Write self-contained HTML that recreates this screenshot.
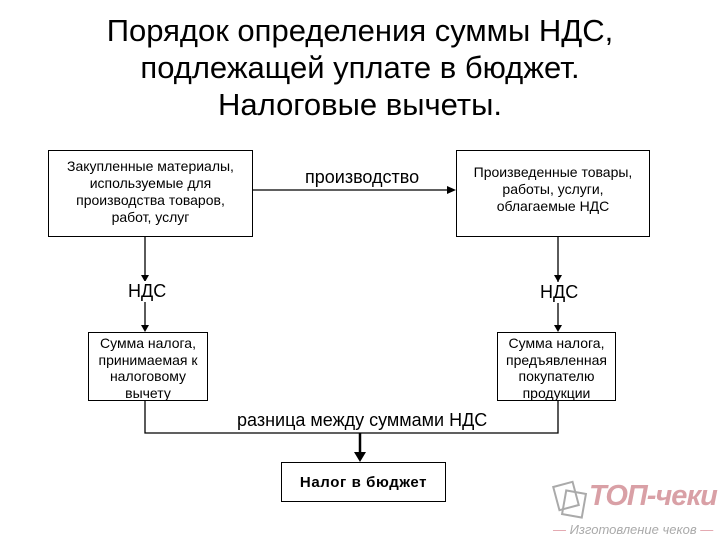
<!DOCTYPE html>
<html><head><meta charset="utf-8"><style>
body{margin:0;width:720px;height:540px;background:#fff;position:relative;overflow:hidden;font-family:"Liberation Sans",sans-serif;color:#000}
.t{position:absolute;left:0;width:720px;text-align:center;font-size:31px;line-height:37px;top:12px}
.b{position:absolute;border:1.5px solid #000;box-sizing:border-box;display:flex;align-items:center;justify-content:center;text-align:center;font-size:14px;line-height:17px;background:#fff}
.l{position:absolute;font-size:18px;background:#fff;white-space:nowrap}
</style></head><body>
<div class="t">Порядок определения суммы НДС,<br>подлежащей уплате в бюджет.<br>Налоговые вычеты.</div>
<svg width="720" height="540" style="position:absolute;left:0;top:0">
<g stroke="#000" stroke-width="1.3" fill="none">
<line x1="252" y1="190" x2="452" y2="190"/>
<line x1="145" y1="236" x2="145" y2="328"/>
<line x1="558" y1="236" x2="558" y2="328"/>
<polyline points="145,400 145,433 558,433 558,400"/>
<line x1="360" y1="433" x2="360" y2="456" stroke-width="2.5"/>
</g>
<g fill="#000">
<polygon points="456,190 447,186 447,194"/>
<polygon points="145,282 141,275 149,275"/>
<polygon points="145,332 141,325 149,325"/>
<polygon points="558,282 554,275 562,275"/>
<polygon points="558,332 554,325 562,325"/>
<polygon points="360,462 354,452 366,452"/>
</g>
</svg>
<div class="b" style="left:48px;top:150px;width:205px;height:87px;padding-bottom:4px">Закупленные материалы,<br>используемые для<br>производства товаров,<br>работ, услуг</div>
<div class="b" style="left:456px;top:150px;width:194px;height:87px;padding-bottom:8px">Произведенные товары,<br>работы, услуги,<br>облагаемые НДС</div>
<div class="b" style="left:88px;top:332px;width:120px;height:69px;line-height:16.5px;padding-top:3px">Сумма налога,<br>принимаемая к<br>налоговому<br>вычету</div>
<div class="b" style="left:497px;top:332px;width:119px;height:69px;line-height:16.5px;padding-top:3px">Сумма налога,<br>предъявленная<br>покупателю<br>продукции</div>
<div class="b" style="left:281px;top:462px;width:165px;height:40px;font-weight:bold;font-size:15px;letter-spacing:0.6px">Налог в бюджет</div>
<div class="l" style="left:305px;top:167px">производство</div>
<div class="l" style="left:126px;top:281px;padding:0 2px">НДС</div>
<div class="l" style="left:538px;top:282px;padding:0 2px">НДС</div>
<div class="l" style="left:235px;top:410px;padding:0 2px">разница между суммами НДС</div>
<svg width="50" height="50" style="position:absolute;left:548px;top:478px">
<g fill="none" stroke="#aaa" stroke-width="2"><rect x="8" y="6" width="20" height="24" transform="rotate(-15 18 18)"/><rect x="16" y="14" width="20" height="24" transform="rotate(10 26 26)"/></g>
</svg>
<div style="position:absolute;left:589px;top:480px;font-size:29px;font-style:italic;font-weight:bold;color:#d9a0a6;letter-spacing:-1px">ТОП-чеки</div>
<div style="position:absolute;left:553px;top:522px;font-size:13px;font-style:italic;color:#aaa;white-space:nowrap"><span style="color:#e0a0a8">—</span> Изготовление чеков <span style="color:#e0a0a8">—</span></div>
</body></html>
